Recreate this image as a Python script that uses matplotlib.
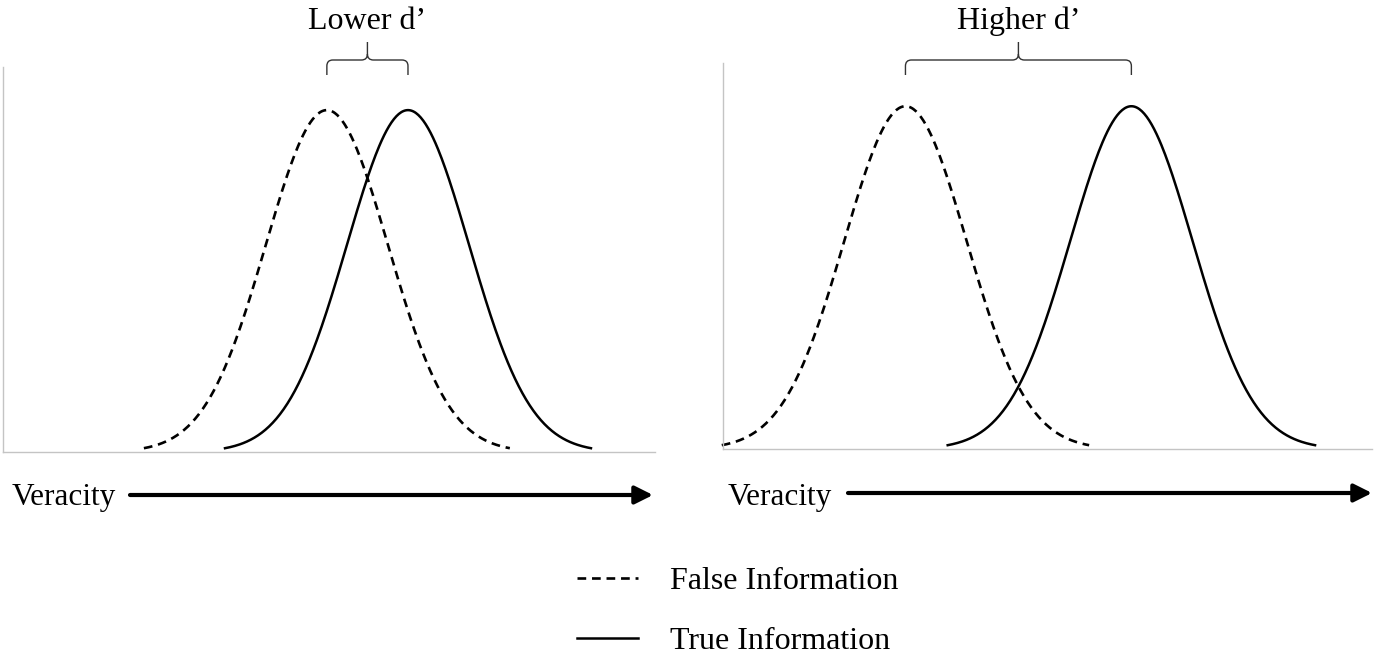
import numpy as np
import matplotlib
matplotlib.use("Agg")
import matplotlib.pyplot as plt
from matplotlib.path import Path
from matplotlib.patches import PathPatch, FancyArrowPatch
from matplotlib import transforms

plt.rcParams['font.family'] = ['Liberation Serif', 'DejaVu Serif']

# data: means of the two distributions (sd = 1) for each panel
panel_titles = ["Lower d\u2019", "Higher d\u2019"]
false_means = [5.31, 2.98]
true_means = [6.64, 6.67]
sd = 1.0
x_max = [10.69, 10.6]
series_labels = ["False Information", "True Information"]
axis_label = "Veracity"

spine_col = "#c4c4c4"
W, H = 1376, 656

fig = plt.figure(figsize=(W / 100, H / 100), dpi=100)


def fx(px):
    return px / W


def fy(py):
    return 1 - py / H


def pdf(x, m):
    return np.exp(-0.5 * ((x - m) / sd) ** 2) / (sd * np.sqrt(2 * np.pi))


# axes boxes in pixels: left, top, right, bottom
boxes = [(3, 67, 655, 452), (723, 63, 1372, 449)]
arrows = [(130, 653, 495), (848, 1372, 493)]
label_x = [12, 728]

handles = []
for i, (l, t, r, b) in enumerate(boxes):
    ax = fig.add_axes([fx(l), fy(b), fx(r - l), (b - t) / H])
    for s in ["top", "right"]:
        ax.spines[s].set_visible(False)
    for s in ["left", "bottom"]:
        ax.spines[s].set_color(spine_col)
        ax.spines[s].set_linewidth(1.0)
    ax.set_xticks([])
    ax.set_yticks([])
    ax.set_xlim(0, x_max[i])
    ax.set_ylim(0, pdf(0, 0) / 0.888)

    xf = np.linspace(false_means[i] - 3 * sd, false_means[i] + 3 * sd, 300)
    xt = np.linspace(true_means[i] - 3 * sd, true_means[i] + 3 * sd, 300)
    lf, = ax.plot(xf, pdf(xf, false_means[i]), color="black", lw=1.9,
                  linestyle=(0, (3.3, 2.2)), clip_on=False)
    lt, = ax.plot(xt, pdf(xt, true_means[i]), color="black", lw=1.8, clip_on=False)
    if i == 0:
        handles = [lf, lt]

    # curly brace between the two means
    tr = transforms.blended_transform_factory(ax.transData, fig.transFigure)
    x0, x1 = false_means[i], true_means[i]
    xc = (x0 + x1) / 2
    rx = 6 / 61
    y_end, y_mid, y_tip = fy(75), fy(60), fy(42)
    ry = 6 / H
    verts = [(x0, y_end), (x0, y_mid - ry), (x0, y_mid), (x0 + rx, y_mid),
             (xc - rx, y_mid), (xc, y_mid), (xc, y_mid + ry), (xc, y_tip),
             (xc, y_mid + ry), (xc, y_mid), (xc + rx, y_mid),
             (x1 - rx, y_mid), (x1, y_mid), (x1, y_mid - ry), (x1, y_end)]
    codes = [Path.MOVETO, Path.LINETO, Path.CURVE3, Path.CURVE3,
             Path.LINETO, Path.CURVE3, Path.CURVE3, Path.LINETO,
             Path.MOVETO, Path.CURVE3, Path.CURVE3,
             Path.LINETO, Path.CURVE3, Path.CURVE3, Path.LINETO]
    brace = PathPatch(Path(verts, codes), transform=tr, fill=False,
                      edgecolor="#333333", lw=1.0, clip_on=False)
    fig.add_artist(brace)
    fig.text(xc, fy(29), panel_titles[i], transform=tr, ha="center",
             va="baseline", fontsize=23)

    # veracity axis arrow
    a0, a1, ay = arrows[i]
    fig.text(fx(label_x[i]), fy(505), axis_label, ha="left", va="baseline",
             fontsize=22.5)
    arr = FancyArrowPatch((fx(a0), fy(ay)), (fx(a1), fy(ay)),
                          transform=fig.transFigure, arrowstyle="-|>",
                          mutation_scale=27, lw=3.0, color="black",
                          shrinkA=0, shrinkB=0)
    fig.add_artist(arr)

fig.legend(handles, series_labels, loc="upper left",
           bbox_to_anchor=(fx(577), fy(567)), frameon=False, fontsize=23,
           handlelength=1.9, handletextpad=1.0, labelspacing=0.95,
           borderpad=0, borderaxespad=0)

fig.savefig("out.png", dpi=100, facecolor="white")
